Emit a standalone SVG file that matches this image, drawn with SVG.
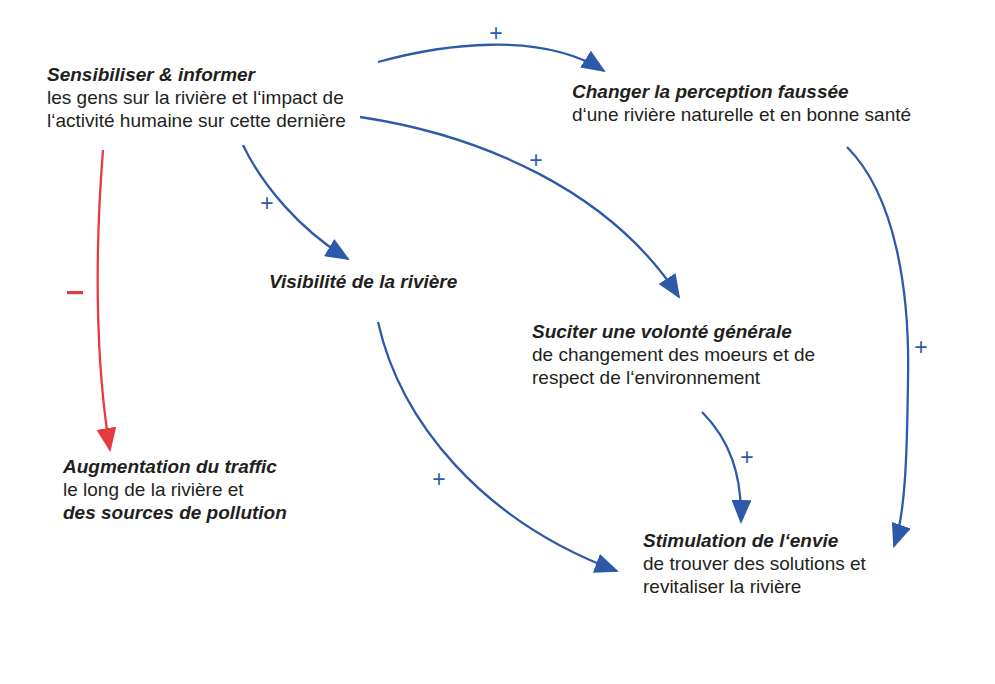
<svg xmlns="http://www.w3.org/2000/svg" width="995" height="684" viewBox="0 0 995 684">
<style>
.t{font-family:"Liberation Sans",Arial,sans-serif;font-size:19px;fill:#231f20}
.b{font-weight:bold;font-style:italic}
.c{fill:none;stroke-width:2.3}
.blue{stroke:#2c5aa8}
.red{stroke:#e53a3f}
.plus{font-family:"Liberation Sans",Arial,sans-serif;font-size:23px;fill:#2c5aa8}
</style>
<defs>
<marker id="ab" viewBox="0 0 24 20" refX="22" refY="10" markerWidth="24" markerHeight="20" markerUnits="userSpaceOnUse" orient="auto"><path d="M0,0 L24,10 L0,20 z" fill="#2c5aa8"/></marker>
<marker id="ar" viewBox="0 0 24 20" refX="22" refY="10" markerWidth="24" markerHeight="20" markerUnits="userSpaceOnUse" orient="auto"><path d="M0,0 L24,10 L0,20 z" fill="#e53a3f"/></marker>
</defs>
<rect width="995" height="684" fill="#fff"/>
<g id="connectors">
<path class="c blue" d="M378,62 C440,45 540,30 604,71" marker-end="url(#ab)"/>
<path class="c blue" d="M360,117 C480,135 610,190 679,297" marker-end="url(#ab)"/>
<path class="c blue" d="M243,145 C262,185 300,230 348,259" marker-end="url(#ab)"/>
<path class="c red" d="M103,150 C95,250 95,360 110,450" marker-end="url(#ar)"/>
<path class="c blue" d="M378,322 C400,420 480,520 617,571" marker-end="url(#ab)"/>
<path class="c blue" d="M702,412 C730,440 742,475 741,522" marker-end="url(#ab)"/>
<path class="c blue" d="M847,147 C895,195 910,290 908,380 C907,460 905,515 894,546" marker-end="url(#ab)"/>
<text class="plus" x="496" y="41" text-anchor="middle">+</text>
<text class="plus" x="536" y="168" text-anchor="middle">+</text>
<text class="plus" x="267" y="211" text-anchor="middle">+</text>
<text class="plus" x="439" y="487" text-anchor="middle">+</text>
<text class="plus" x="747" y="465" text-anchor="middle">+</text>
<text class="plus" x="921" y="355" text-anchor="middle">+</text>
<rect x="67" y="291" width="16" height="3.2" fill="#e53a3f"/>
</g>
<g id="sensibiliser">
<text class="t b" x="47" y="81">Sensibiliser &amp; informer</text>
<text class="t" x="47" y="104">les gens sur la rivière et l‘impact de</text>
<text class="t" x="47" y="127">l‘activité humaine sur cette dernière</text>
</g>
<g id="changer">
<text class="t b" x="572" y="98">Changer la perception faussée</text>
<text class="t" x="572" y="121">d‘une rivière naturelle et en bonne santé</text>
</g>
<g id="visibilite">
<text class="t b" x="269" y="288">Visibilité de la rivière</text>
</g>
<g id="suciter">
<text class="t b" x="532" y="338">Suciter une volonté générale</text>
<text class="t" x="532" y="361">de changement des moeurs et de</text>
<text class="t" x="532" y="384">respect de l‘environnement</text>
</g>
<g id="augmentation">
<text class="t b" x="63" y="473">Augmentation du traffic</text>
<text class="t" x="63" y="496">le long de la rivière et</text>
<text class="t b" x="63" y="519">des sources de pollution</text>
</g>
<g id="stimulation">
<text class="t b" x="643" y="547">Stimulation de l‘envie</text>
<text class="t" x="643" y="570">de trouver des solutions et</text>
<text class="t" x="643" y="593">revitaliser la rivière</text>
</g>
</svg>
